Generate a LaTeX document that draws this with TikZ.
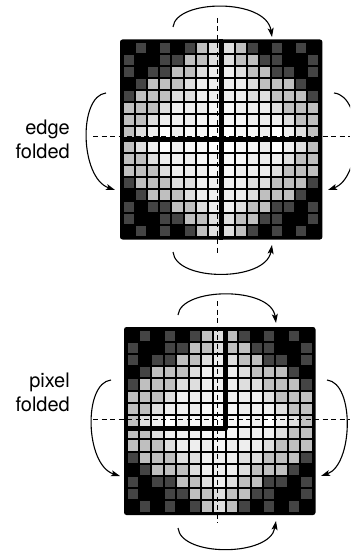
\documentclass[tikz,border=0pt]{standalone}
\usepackage{fontspec}
\setmainfont{TeX Gyre Heros}
\usetikzlibrary{arrows.meta}

\definecolor{g0}{HTML}{000000}
\definecolor{g1}{HTML}{444444}
\definecolor{g2}{HTML}{BFBFBF}
\definecolor{g3}{HTML}{DEDEDE}
\definecolor{g4}{HTML}{EEEEEE}
\definecolor{g5}{HTML}{F7F7F7}
\definecolor{g6}{HTML}{FFFFFF}

% one quarter of the image, outer corner first
\def\quadrant{{0,1,0,1,0,1,2,3},{1,0,0,1,1,2,2,3},{1,0,1,1,2,2,3,4},{0,1,2,2,2,3,4,4},%
{1,2,2,2,3,3,4,4},{2,2,2,3,4,4,4,5},{2,2,3,4,4,4,5,5},{2,3,4,6,4,5,5,6}}

% #1,#2 = corner of the first cell, #3 = index sum of mirrored cells,
% #4,#5 = cell pitch, #6 = extra space after the eighth cell
\newcommand\foldgrid[6]{%
  \foreach \row [count=\r] in \quadrant {
    \foreach \v [count=\c] in \row {
      \pgfmathtruncatemacro\mc{#3-\c}
      \pgfmathtruncatemacro\mr{#3-\r}
      \foreach \xx in {\c,\mc}
        \foreach \yy in {\r,\mr}
          \fill[g\v] ({#1+(\xx-1)*#4+(\xx>8)*#6+1},{#2+(\yy-1)*#5+(\yy>8)*#6+1})
            rectangle +(#4-2,#5-2);
    }
  }%
}

\begin{document}
\begin{tikzpicture}[x=1pt,y=-1pt,
    flip/.style={-{Stealth[length=9pt,width=6pt,inset=2pt]},line width=1.1pt},
    foldaxis/.style={line width=0.9pt,dash pattern=on 5pt off 3.5pt},
    foldline/.style={line width=4.5pt,line join=round},
    caption/.style={font=\fontsize{20}{24}\selectfont,align=right,anchor=east,inner sep=0pt}]
\useasboundingbox (0,0) rectangle (350,553);
\clip (0,0) rectangle (350,553);

% edge folded
\fill[rounded corners=2.5pt] (120,39.5) rectangle (322.4,239.5);
\foldgrid{123}{42.5}{17}{12.1}{11.95}{2.8}
\draw[foldline] (221.2,39.5) -- (221.2,239.5);
\draw[foldline] (120,139.5) -- (322.4,139.5);
\draw[foldaxis] (217.5,18) -- (217.5,253);
\draw[foldaxis] (93,136.7) -- (350,136.7);

\coordinate(T1)at(173,27);   \coordinate(T2)at(272,37);
\coordinate(B1)at(173,252);  \coordinate(B2)at(272,245);
\coordinate(L1)at(106,93);   \coordinate(L2)at(115,190);
\coordinate(R1)at(334,93);   \coordinate(R2)at(328,190);
\draw[flip] (T1) .. controls (176,-1) and (266,-2) .. (T2);
\draw[flip] (B1) .. controls (176,282) and (266,282) .. (B2);
\draw[flip] (L1) .. controls (78,96) and (80,178) .. (L2);
\draw[flip] (R1) .. controls (364,96) and (362,178) .. (R2);
\node[caption] (edge) at (70,139.8) {edge\\folded};

% pixel folded
\fill[rounded corners=2.5pt] (124,327) rectangle (315.5,515);
\foldgrid{126.5}{329.5}{16}{12.4}{12.2}{0}
\draw[foldline] (225.7,327) -- (225.7,428.5) -- (124,428.5);
\draw[foldaxis] (217,301) -- (217,523);
\draw[foldaxis] (93,419) -- (350,419);

\coordinate(t1)at(178,315);  \coordinate(t2)at(276,323);
\coordinate(b1)at(178,528);  \coordinate(b2)at(276,521);
\coordinate(l1)at(111,380);  \coordinate(l2)at(120,476);
\coordinate(r1)at(327,380);  \coordinate(r2)at(321,476);
\draw[flip] (t1) .. controls (181,287) and (271,286) .. (t2);
\draw[flip] (b1) .. controls (181,557) and (270,557) .. (b2);
\draw[flip] (l1) .. controls (83,383) and (85,465) .. (l2);
\draw[flip] (r1) .. controls (355,383) and (353,465) .. (r2);
\node[caption] (pixel) at (70,392.8) {pixel\\folded};
\end{tikzpicture}
\end{document}
